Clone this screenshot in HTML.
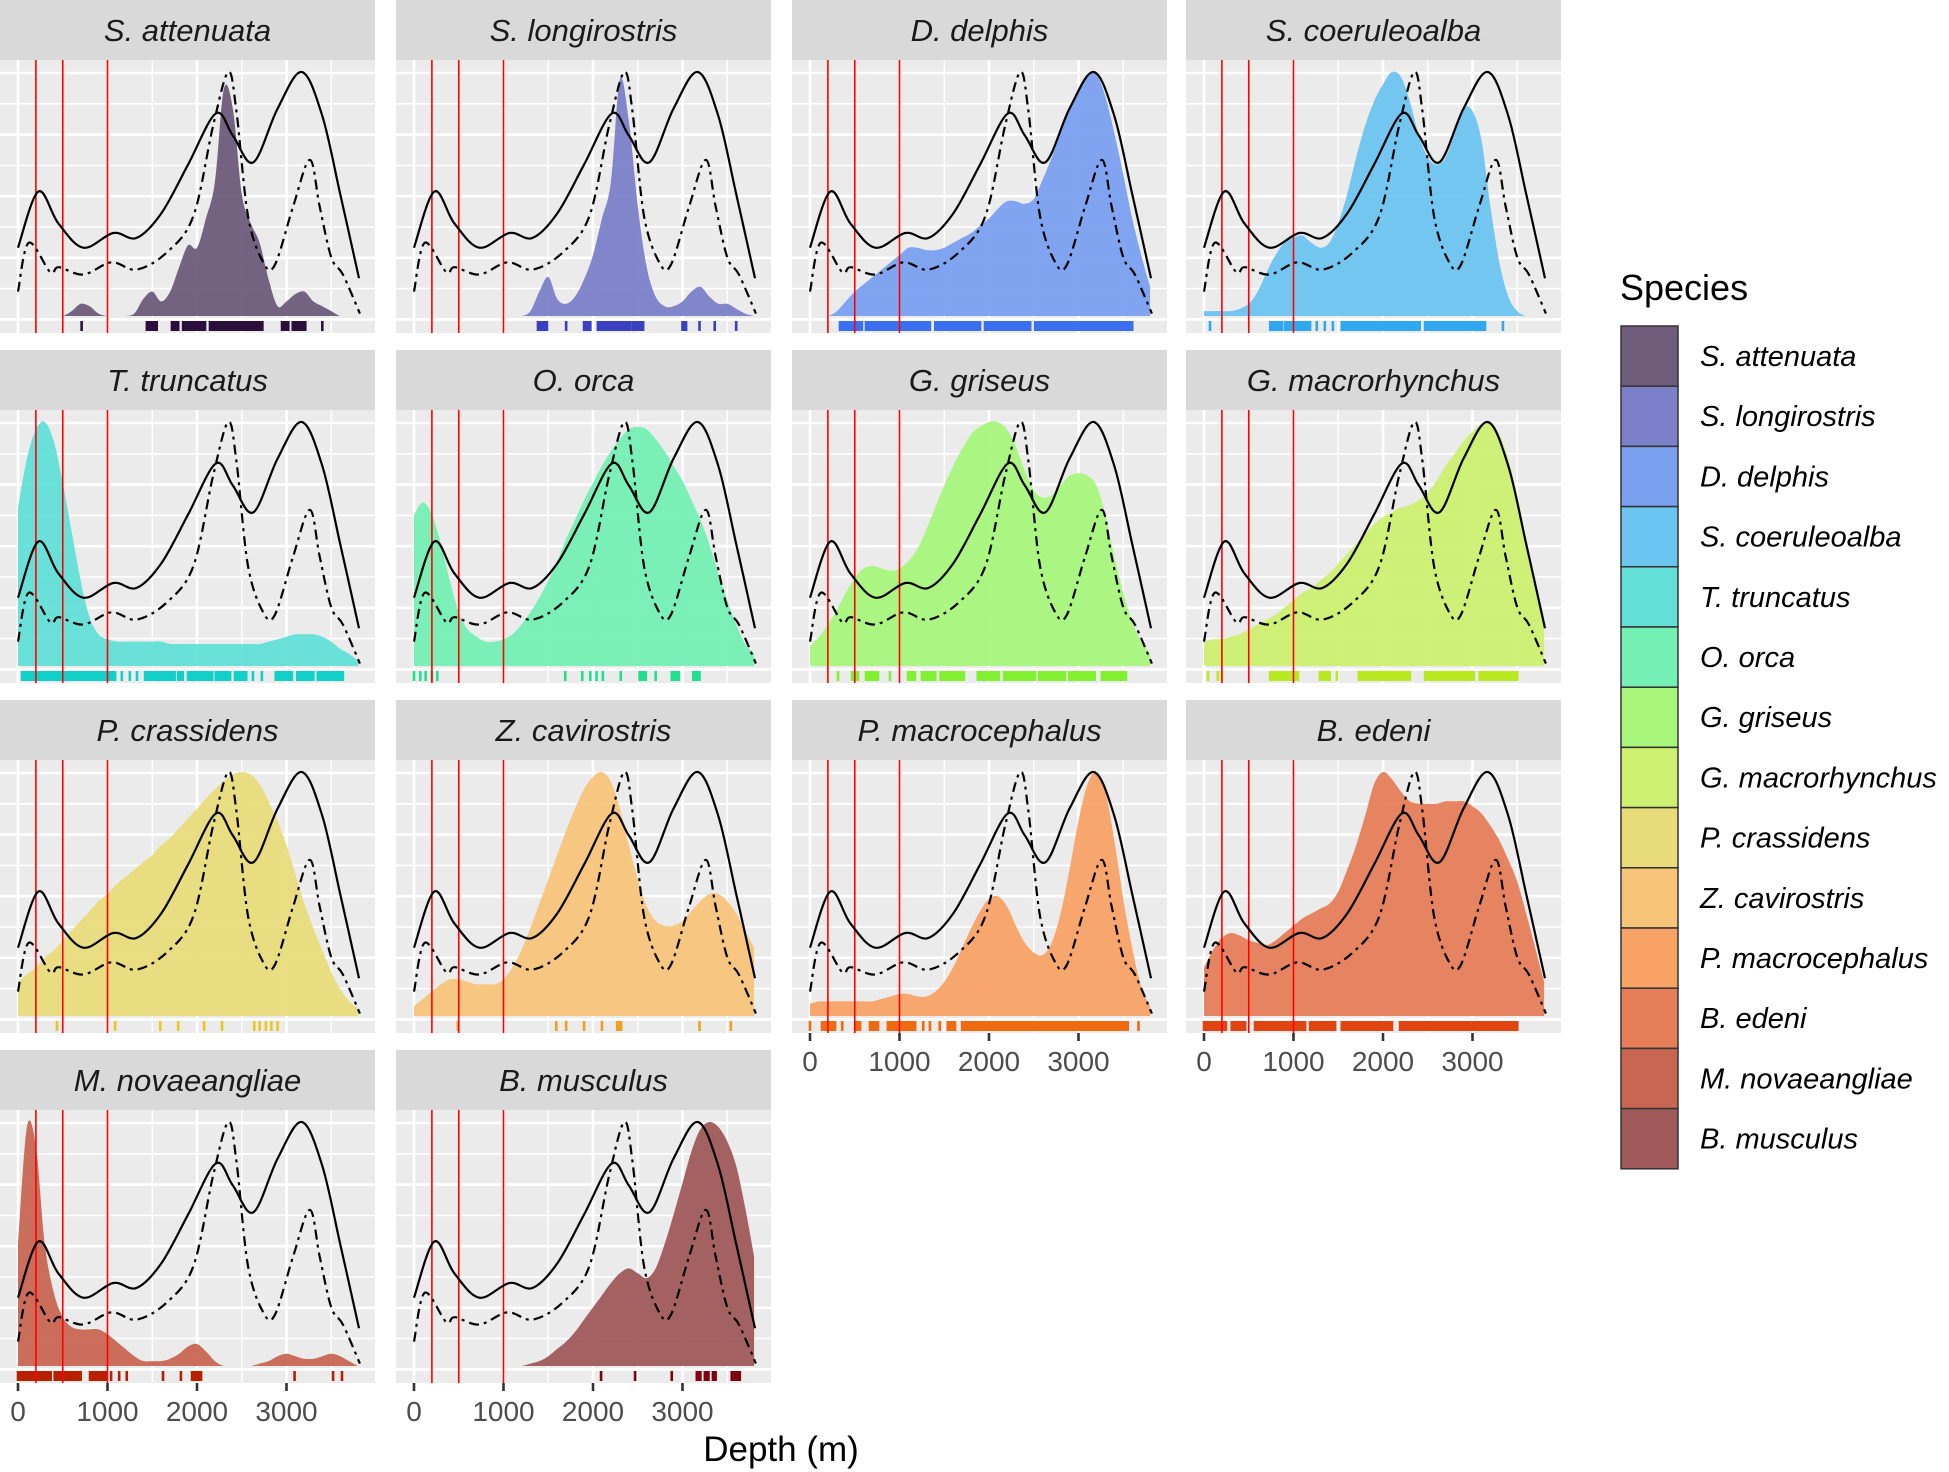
<!DOCTYPE html>
<html><head><meta charset="utf-8"><style>
html,body{margin:0;padding:0;background:#fff;}
svg{display:block;font-family:"Liberation Sans",Arial,sans-serif;}
</style></head><body>
<svg id="chart" width="1949" height="1472" viewBox="0 0 1949 1472" xmlns="http://www.w3.org/2000/svg"></svg>
<script>
const depths = [0,100,200,300,400,500,600,700,800,900,1000,1100,1200,1300,1400,1500,1600,1700,1800,1900,2000,2100,2200,2300,2400,2500,2600,2700,2800,2900,3000,3100,3200,3300,3400,3500,3600,3700,3800];
const species = ["S. attenuata","S. longirostris","D. delphis","S. coeruleoalba","T. truncatus","O. orca","G. griseus","G. macrorhynchus","P. crassidens","Z. cavirostris","P. macrocephalus","B. edeni","M. novaeangliae","B. musculus"];
const fillColors = ["#6e5c7a","#7b80c8","#7aa0f0","#6cc4f0","#62e0d8","#74f0b4","#a8f57c","#cdf070","#e8dc7a","#f8c47a","#f8a266","#e67e5a","#c86652","#a05a5a"];
const rugColors = ["#2a0f3a","#3a40c0","#3a70f0","#30a8f0","#10d0c8","#20e090","#80f030","#b8e820","#e8c820","#f0a020","#f06a10","#e04410","#b82000","#800010"];
const densSAtt = [0,0,0,0,0,0,.02,.05,.04,.01,0,0,0,.01,.07,.1,.06,.1,.2,.29,.28,.4,.55,.93,.85,.5,.38,.3,.15,.04,.06,.09,.1,.06,.04,.02,0,0,0];
const densSLon = [0,0,0,0,0,0,0,0,0,0,0,0,0,.02,.1,.16,.07,.05,.08,.15,.25,.4,.55,.97,.8,.45,.2,.08,.04,.04,.06,.1,.12,.08,.05,.05,.03,.01,0];
const densDDel = [0,0,0,.02,.06,.1,.13,.16,.19,.22,.25,.28,.28,.27,.27,.28,.3,.32,.34,.37,.4,.44,.47,.47,.46,.48,.56,.65,.75,.85,.93,.99,.99,.9,.75,.58,.4,.25,.12];
const densSCoe = [.02,.02,.02,.02,.03,.05,.1,.18,.25,.3,.32,.33,.3,.28,.3,.38,.5,.65,.78,.88,.95,1.0,.98,.88,.74,.65,.62,.65,.75,.85,.84,.72,.45,.22,.08,.02,0,0,0];
const densTTru = [.65,.85,.97,1.0,.92,.75,.55,.35,.2,.13,.11,.1,.1,.1,.1,.1,.1,.09,.09,.09,.09,.09,.09,.09,.09,.09,.09,.09,.1,.11,.12,.13,.13,.13,.12,.1,.07,.05,.02];
const densOOrc = [.62,.67,.62,.5,.35,.22,.15,.12,.1,.1,.11,.13,.17,.22,.28,.35,.43,.52,.6,.68,.75,.82,.88,.93,.97,.98,.97,.93,.88,.82,.76,.68,.6,.5,.38,.27,.17,.09,.05];
const densGGri = [.08,.12,.17,.23,.3,.36,.4,.41,.4,.39,.4,.43,.48,.56,.65,.74,.82,.89,.95,.98,1.0,1.0,.97,.9,.8,.72,.69,.7,.74,.78,.79,.78,.74,.62,.45,.3,.18,.1,.05];
const densGMac = [.1,.11,.11,.12,.13,.15,.17,.19,.21,.24,.27,.3,.32,.35,.38,.42,.46,.5,.54,.58,.61,.63,.65,.66,.68,.71,.76,.82,.87,.92,.96,.99,1.0,.95,.85,.7,.52,.35,.2];
const densPCra = [.14,.17,.2,.24,.27,.31,.35,.39,.43,.47,.5,.54,.57,.6,.63,.66,.7,.73,.77,.81,.85,.89,.93,.96,.99,1.0,.99,.95,.88,.8,.7,.58,.46,.36,.27,.18,.11,.06,.03];
const densZCav = [.04,.07,.1,.13,.15,.15,.14,.13,.13,.13,.15,.2,.27,.36,.46,.56,.66,.76,.85,.93,.98,1.0,.96,.85,.7,.56,.45,.39,.37,.37,.39,.43,.47,.5,.5,.47,.42,.35,.28];
const densPMac = [.05,.06,.06,.06,.06,.06,.06,.06,.07,.08,.09,.09,.08,.08,.1,.14,.2,.28,.36,.43,.48,.49,.45,.37,.3,.26,.25,.3,.42,.6,.8,.95,1.0,.92,.72,.48,.28,.12,.04];
const densBEde = [.2,.27,.32,.34,.33,.31,.3,.29,.31,.34,.37,.4,.42,.44,.46,.51,.6,.7,.82,.95,1.0,.97,.92,.88,.87,.87,.87,.88,.88,.88,.86,.83,.78,.72,.64,.55,.42,.28,.14];
const densMNov = [.5,.98,.9,.5,.3,.2,.16,.15,.15,.15,.13,.1,.07,.04,.02,.02,.02,.03,.05,.08,.09,.06,.02,0,0,0,0,.01,.02,.04,.05,.04,.03,.03,.04,.05,.04,.02,0];
const densBMus = [0,0,0,0,0,0,0,0,0,0,0,0,0,.01,.02,.04,.07,.1,.14,.19,.24,.29,.34,.38,.4,.38,.36,.4,.5,.62,.75,.88,.97,1.0,.98,.92,.82,.65,.45];
const speciesDens = [densSAtt,densSLon,densDDel,densSCoe,densTTru,densOOrc,densGGri,densGMac,densPCra,densZCav,densPMac,densBEde,densMNov,densBMus];
const solidDepths = [0,227,450,730,1065,1325,1600,1900,2210,2400,2630,2900,3170,3400,3600,3810];
const solidDens = [.28,.51,.38,.28,.34,.32,.42,.62,.83,.74,.63,.85,1.0,.82,.5,.155];
const dashDepths = [0,120,360,455,730,1045,1325,1660,1960,2180,2350,2440,2570,2740,2870,3075,3260,3370,3500,3630,3820];
const dashDens = [.10,.30,.18,.2,.17,.22,.19,.26,.41,.78,1.0,.84,.41,.22,.21,.45,.64,.45,.24,.17,.01];
const refDepths = [200,500,1000];
const xTicks = [0,1000,2000,3000];
const xTickLabels = ["0","1000","2000","3000"];
const rugSAtt = [[711,711],[1440,1550],[1720,1790],[1845,2090],[2145,2730],[2950,3020],[3070,3210],[3400,3400]];
const rugSLon = [[1385,1486],[1700,1700],[1900,1970],[2055,2420],[2450,2560],[3000,3040],[3190,3190],[3360,3360],[3600,3600]];
const rugDDel = [[335,580],[625,1340],[1400,1900],[1955,2460],[2515,3600]];
const rugSCoe = [[67,67],[740,870],[905,1185],[1260,1260],[1350,1350],[1440,1440],[1540,2410],[2470,3140],[3340,3340]];
const rugTTru = [[45,860],[880,1085],[1160,1160],[1250,1250],[1330,1330],[1420,1750],[1790,1840],[1900,2170],[2210,2370],[2425,2550],[2625,2625],[2725,2725],[2880,3060],[3120,3300],[3350,3630]];
const rugOOrc = [[0,0],[70,70],[130,130],[200,200],[260,260],[1690,1690],[1880,1880],[1970,1970],[2040,2040],[2110,2110],[2310,2310],[2520,2590],[2700,2700],[2880,2960],[3120,3190]];
const rugGGri = [[313,313],[469,536],[626,760],[894,894],[1095,1173],[1250,1400],[1460,1720],[1875,2110],[2170,2515],[2560,2850],[2895,3180],[3260,3530]];
const rugGMac = [[45,45],[155,155],[200,200],[740,1050],[1295,1405],[1485,1485],[1730,2300],[2470,3015],[3080,3500]];
const rugPCra = [[435,435],[1085,1085],[1590,1590],[1790,1790],[2080,2080],[2280,2280],[2640,2640],[2700,2700],[2770,2770],[2830,2830],[2900,2900]];
const rugZCav = [[490,490],[1590,1590],[1700,1700],[1900,1900],[2100,2100],[2270,2315],[3190,3190],[3540,3540]];
const rugPMac = [[0,0],[134,280],[360,360],[505,560],[670,760],[870,1175],[1265,1265],[1340,1340],[1450,1450],[1540,1620],[1700,3550],[3670,3670]];
const rugBEde = [[0,245],[310,460],[570,1130],[1185,1465],[1540,2100],[2190,3500]];
const rugMNov = [[0,365],[410,700],[805,930],[945,980],[1040,1040],[1130,1130],[1215,1215],[1620,1620],[1820,1820],[1945,2045],[3090,3090],[3520,3520],[3620,3620]];
const rugBMus = [[2090,2090],[2470,2470],[2880,2880],[3160,3200],[3250,3290],[3340,3370],[3550,3640]];
const speciesRug = [rugSAtt,rugSLon,rugDDel,rugSCoe,rugTTru,rugOOrc,rugGGri,rugGMac,rugPCra,rugZCav,rugPMac,rugBEde,rugMNov,rugBMus];

const NS = "http://www.w3.org/2000/svg";
const svg = document.getElementById('chart');
const colLeft = [0,396,792,1186], rowTop = [0,350,700,1050];
const PW = 375, STRIP = 60, PB = 333, BASE = 316, TOP = 72;
function mk(tag, attrs, parent){const e=document.createElementNS(NS,tag);for(const k in attrs)e.setAttribute(k,attrs[k]);(parent||svg).appendChild(e);return e;}
function xs(left,d){return left+18+d*0.0895;}
function ys(top,h){return top+BASE-h*(BASE-TOP);}
function smoothPath(pts, clampY){
  let d = "M"+pts[0][0].toFixed(1)+","+pts[0][1].toFixed(1);
  for(let i=0;i<pts.length-1;i++){
    const p0=pts[Math.max(0,i-1)],p1=pts[i],p2=pts[i+1],p3=pts[Math.min(pts.length-1,i+2)];
    let c1x=p1[0]+(p2[0]-p0[0])/6,c1y=p1[1]+(p2[1]-p0[1])/6;
    let c2x=p2[0]-(p3[0]-p1[0])/6,c2y=p2[1]-(p3[1]-p1[1])/6;
    if(clampY!==undefined){c1y=Math.min(c1y,clampY);c2y=Math.min(c2y,clampY);}
    d+=" C"+c1x.toFixed(1)+","+c1y.toFixed(1)+" "+c2x.toFixed(1)+","+c2y.toFixed(1)+" "+p2[0].toFixed(1)+","+p2[1].toFixed(1);
  }
  return d;
}
species.forEach((name,i)=>{
  const c=i%4, r=Math.floor(i/4);
  const L=colLeft[c], T=rowTop[r];
  const g=mk('g',{});
  
  
  const strip=mk('rect',{x:L,y:T,width:PW,height:STRIP,fill:'#d9d9d9'},g);
  
  
  const st=mk('text',{x:L+PW/2,y:T+41,'text-anchor':'middle','font-size':31,'font-style':'italic',fill:'#1a1a1a'},g);
  st.textContent=name;
  
  
  const bg=mk('rect',{x:L,y:T+STRIP,width:PW,height:PB-STRIP,fill:'#ebebeb'},g);
  
  
  for(let k=0;k<9;k++){
    const y=T+73+k*30.8;
    mk('line',{x1:L,x2:L+PW,y1:y,y2:y,stroke:'#fff','stroke-width':k%2===0?2.6:1.6},g);
  }
  for(let dd=0; dd<=3500; dd+=500){
    const x=xs(L,dd);
    mk('line',{x1:x,x2:x,y1:T+STRIP,y2:T+PB,stroke:'#fff','stroke-width':dd%1000===0?2.6:1.4},g);
  }
  const pts=depths.map((d,j)=>[xs(L,d),ys(T,speciesDens[i][j])]);
  const base=T+BASE;
  let pd=smoothPath(pts,base)+" L"+pts[pts.length-1][0].toFixed(1)+","+base+" L"+pts[0][0].toFixed(1)+","+base+" Z";
  const fp=mk('path',{d:pd,fill:fillColors[i],'fill-opacity':0.95},g);
  
  
  speciesRug[i].forEach(rg=>{
    const x1=xs(L,rg[0]), x2=xs(L,rg[1]);
    const rr=mk('rect',{x:x1-1.3,y:T+321,width:Math.max(2.6,x2-x1+2.6),height:10,fill:rugColors[i]},g);
    
    
  });
  refDepths.forEach(d=>{
    const x=xs(L,d);
    const rl=mk('line',{x1:x,x2:x,y1:T+STRIP,y2:T+PB,stroke:'#ff0000','stroke-width':1.6},g);
    
    
  });
  const sp=mk('path',{d:smoothPath(solidDepths.map((d,j)=>[xs(L,d),ys(T,solidDens[j])])),fill:'none',stroke:'#000','stroke-width':2.2},g);
  
  
  const dp=mk('path',{d:smoothPath(dashDepths.map((d,j)=>[xs(L,d),ys(T,dashDens[j])])),fill:'none',stroke:'#000','stroke-width':2.2,'stroke-dasharray':'10,5,3,5'},g);
  
  
  const bottom = (r===3) || (r===2 && c>=2);
  if(bottom){
    xTicks.forEach((d,j)=>{
      const x=xs(L,d);
      mk('line',{x1:x,x2:x,y1:T+PB,y2:T+PB+8,stroke:'#333','stroke-width':2.6},g);
      const tl=mk('text',{x:x,y:T+PB+38,'text-anchor':'middle','font-size':28,fill:'#4d4d4d'},g);
      tl.textContent=xTickLabels[j];
      
      
    });
  }
});
const xt=mk('text',{x:781,y:1461,'text-anchor':'middle','font-size':35,fill:'#000'});
xt.textContent='Depth (m)';


const lg=mk('g',{});


const lt=mk('text',{x:1620,y:300,'font-size':36,fill:'#000'},lg);
lt.textContent='Species';


species.forEach((name,i)=>{
  const y=326+i*60.2;
  const kb=mk('rect',{x:1621,y:y,width:57,height:60.2,fill:fillColors[i],stroke:'#333','stroke-width':1.5},lg);
  
  
  const tx=mk('text',{x:1700,y:y+40,'font-size':29,'font-style':'italic',fill:'#000'},lg);
  tx.textContent=name;
  
  
});
</script>
</body></html>
